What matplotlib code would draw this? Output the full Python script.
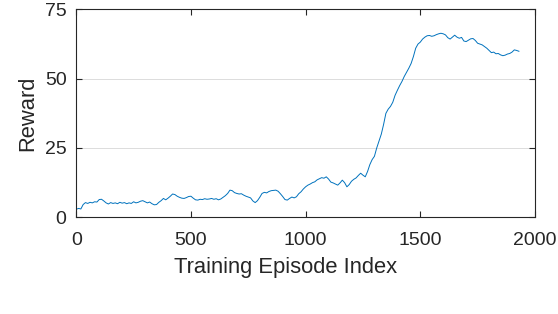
import numpy as np
import matplotlib
matplotlib.use("Agg")
import matplotlib.pyplot as plt

episodes = list(range(0, 1940, 10))
reward = [
    2.9, 3.2, 3.0, 4.6, 5.3, 5.0, 5.4, 5.2, 5.6, 5.5,
    6.4, 6.5, 5.9, 5.2, 4.8, 5.3, 5.0, 5.2, 4.9, 5.4,
    5.1, 5.3, 4.9, 5.2, 5.0, 5.6, 5.2, 5.4, 5.8, 6.0,
    5.6, 5.2, 5.5, 4.9, 4.5, 4.6, 5.4, 6.0, 6.8, 6.3,
    6.9, 7.6, 8.4, 8.2, 7.6, 7.2, 6.9, 6.8, 7.1, 7.5,
    7.6, 6.9, 6.3, 6.2, 6.5, 6.4, 6.7, 6.5, 6.6, 6.8,
    6.5, 6.7, 6.3, 6.6, 7.2, 7.8, 8.6, 9.8, 9.6, 8.9,
    8.6, 8.4, 8.5, 8.0, 7.6, 7.3, 7.0, 5.9, 5.3, 6.0,
    7.2, 8.6, 9.0, 8.8, 9.3, 9.6, 9.7, 9.8, 9.4, 8.5,
    7.5, 6.4, 6.2, 6.8, 7.3, 7.0, 7.4, 8.5, 9.2, 10.2,
    11.0, 11.6, 12.0, 12.5, 12.8, 13.5, 13.9, 14.3, 14.1, 14.6,
    13.8, 12.7, 12.4, 12.0, 11.6, 12.4, 13.4, 12.5, 11.0, 11.8,
    13.0, 13.7, 14.2, 15.1, 15.9, 15.2, 14.6, 16.5, 19.0, 20.8,
    22.0, 25.0, 27.5, 30.0, 33.5, 37.5, 39.0, 40.0, 41.5, 44.0,
    45.8, 47.5, 49.0, 50.8, 52.3, 53.8, 55.5, 58.0, 61.0, 62.5,
    63.2, 64.3, 65.0, 65.5, 65.6, 65.3, 65.5, 65.9, 66.2, 66.4,
    66.2, 65.8, 64.8, 64.3, 65.0, 65.7, 65.0, 64.6, 64.9, 63.6,
    63.4, 63.9, 64.4, 64.5, 63.8, 62.8, 62.5, 62.2, 61.6, 61.0,
    60.2, 59.4, 59.6, 59.0, 59.1, 58.6, 58.3, 58.5, 58.9, 59.1,
    59.6, 60.4, 60.2, 59.9,
]
x_ticks = [0, 500, 1000, 1500, 2000]
y_ticks = [0, 25, 50, 75]

plt.rcParams['font.family'] = ['Liberation Sans', 'DejaVu Sans']

fig = plt.figure(figsize=(5.58, 3.14), dpi=100)
ax = fig.add_axes([0.1367, 0.308, 0.822, 0.662])

ax.plot(episodes, reward, color="#0072BD", linewidth=0.7)

ax.set_xlim(0, 2000)
ax.set_ylim(0, 75)
ax.set_xticks(x_ticks)
ax.set_yticks(y_ticks)
ax.grid(axis="y", color="#dcdcdc", linewidth=0.7)
ax.set_axisbelow(True)

ax.tick_params(direction="in", length=4, width=0.8, colors="#262626",
               labelsize=14, top=True, right=True)
ax.tick_params(axis="x", pad=10.4)
ax.tick_params(axis="y", pad=7)
for s in ax.spines.values():
    s.set_color("#262626")
    s.set_linewidth(0.8)

ax.set_xlabel("Training Episode Index", fontsize=15.8, color="#262626")
ax.xaxis.set_label_coords(0.457, -0.189)
ax.set_ylabel("Reward", fontsize=15.8, color="#262626", labelpad=4.5)

plt.savefig("out.png", dpi=100)
